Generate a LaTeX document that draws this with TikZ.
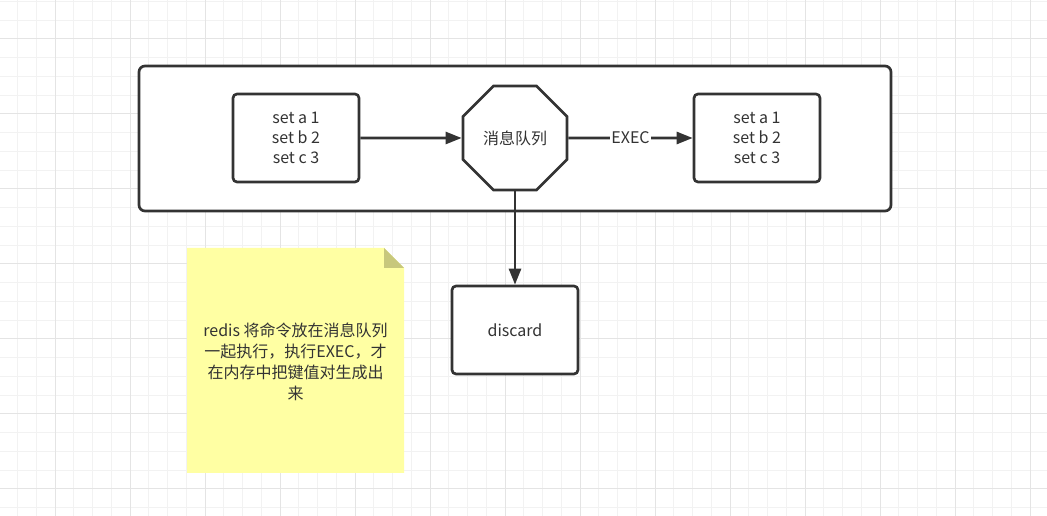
\documentclass[tikz,border=0pt]{standalone}
\usepackage{fontspec}
\setmainfont{Noto Sans CJK SC}
\usetikzlibrary{shapes.geometric,arrows.meta}

\definecolor{ink}{HTML}{333333}
\definecolor{gridminor}{HTML}{F2F2F2}
\definecolor{gridmajor}{HTML}{E4E4E4}
\definecolor{notefill}{HTML}{FFFFA3}
\definecolor{notefold}{HTML}{C8C87C}

\begin{document}
\begin{tikzpicture}[x=0.75pt,y=-0.75pt,
  font=\fontsize{12}{15}\selectfont,
  box/.style={draw=ink,fill=white,line width=2pt,rounded corners=3pt,
    align=center,text=ink,inner sep=0pt,minimum width=94.5pt,minimum height=66pt},
  conn/.style={draw=ink,line width=2pt,-{Triangle[length=12pt,width=9pt]}}]

\useasboundingbox (0,0) rectangle (1047,516);

% grid
\foreach \i in {0,...,56}
  \draw[gridminor,line width=0.75pt] (-1.25+18.75*\i,0) -- ++(0,516);
\foreach \j in {-2,...,25}
  \draw[gridminor,line width=0.75pt] (0,39+18.75*\j) -- ++(1047,0);
\foreach \i in {0,...,13}
  \draw[gridmajor,line width=0.75pt] (55+75*\i,0) -- ++(0,516);
\foreach \j in {0,...,6}
  \draw[gridmajor,line width=0.75pt] (0,39+75*\j) -- ++(1047,0);

% frame and nodes
\node[box,rounded corners=4.5pt,minimum width=564pt,minimum height=108.75pt] (frame) at (515,138.5) {};

\node[box] (src) at (296,138) {set a 1\\set b 2\\set c 3};
\node[draw=ink,fill=white,line width=2pt,text=ink,inner sep=0pt,
  regular polygon,regular polygon sides=8,minimum size=84.5pt] (queue) at (515,138) {消息队列};
\node[box] (dst) at (757,138) {set a 1\\set b 2\\set c 3};
\node[box] (discard) at (515,330) {discard};

\draw[conn] (src) -- (queue);
\draw[conn] (queue) -- node[fill=white,text=ink,inner sep=1pt] {EXEC} (dst);
\draw[conn] (queue) -- (discard);

% note
\fill[notefill] (187,248) -- (384,248) -- (404,268) -- (404,473) -- (187,473) -- cycle;
\fill[notefold] (384,248) -- (404,268) -- (384,268) -- cycle;
\node[text=ink,align=center,font=\fontsize{12}{15.75}\selectfont] (memo) at (295.5,362)
  {redis 将命令放在消息队列\\一起执行，执行EXEC，才\\在内存中把键值对生成出\\来};

\end{tikzpicture}
\end{document}
